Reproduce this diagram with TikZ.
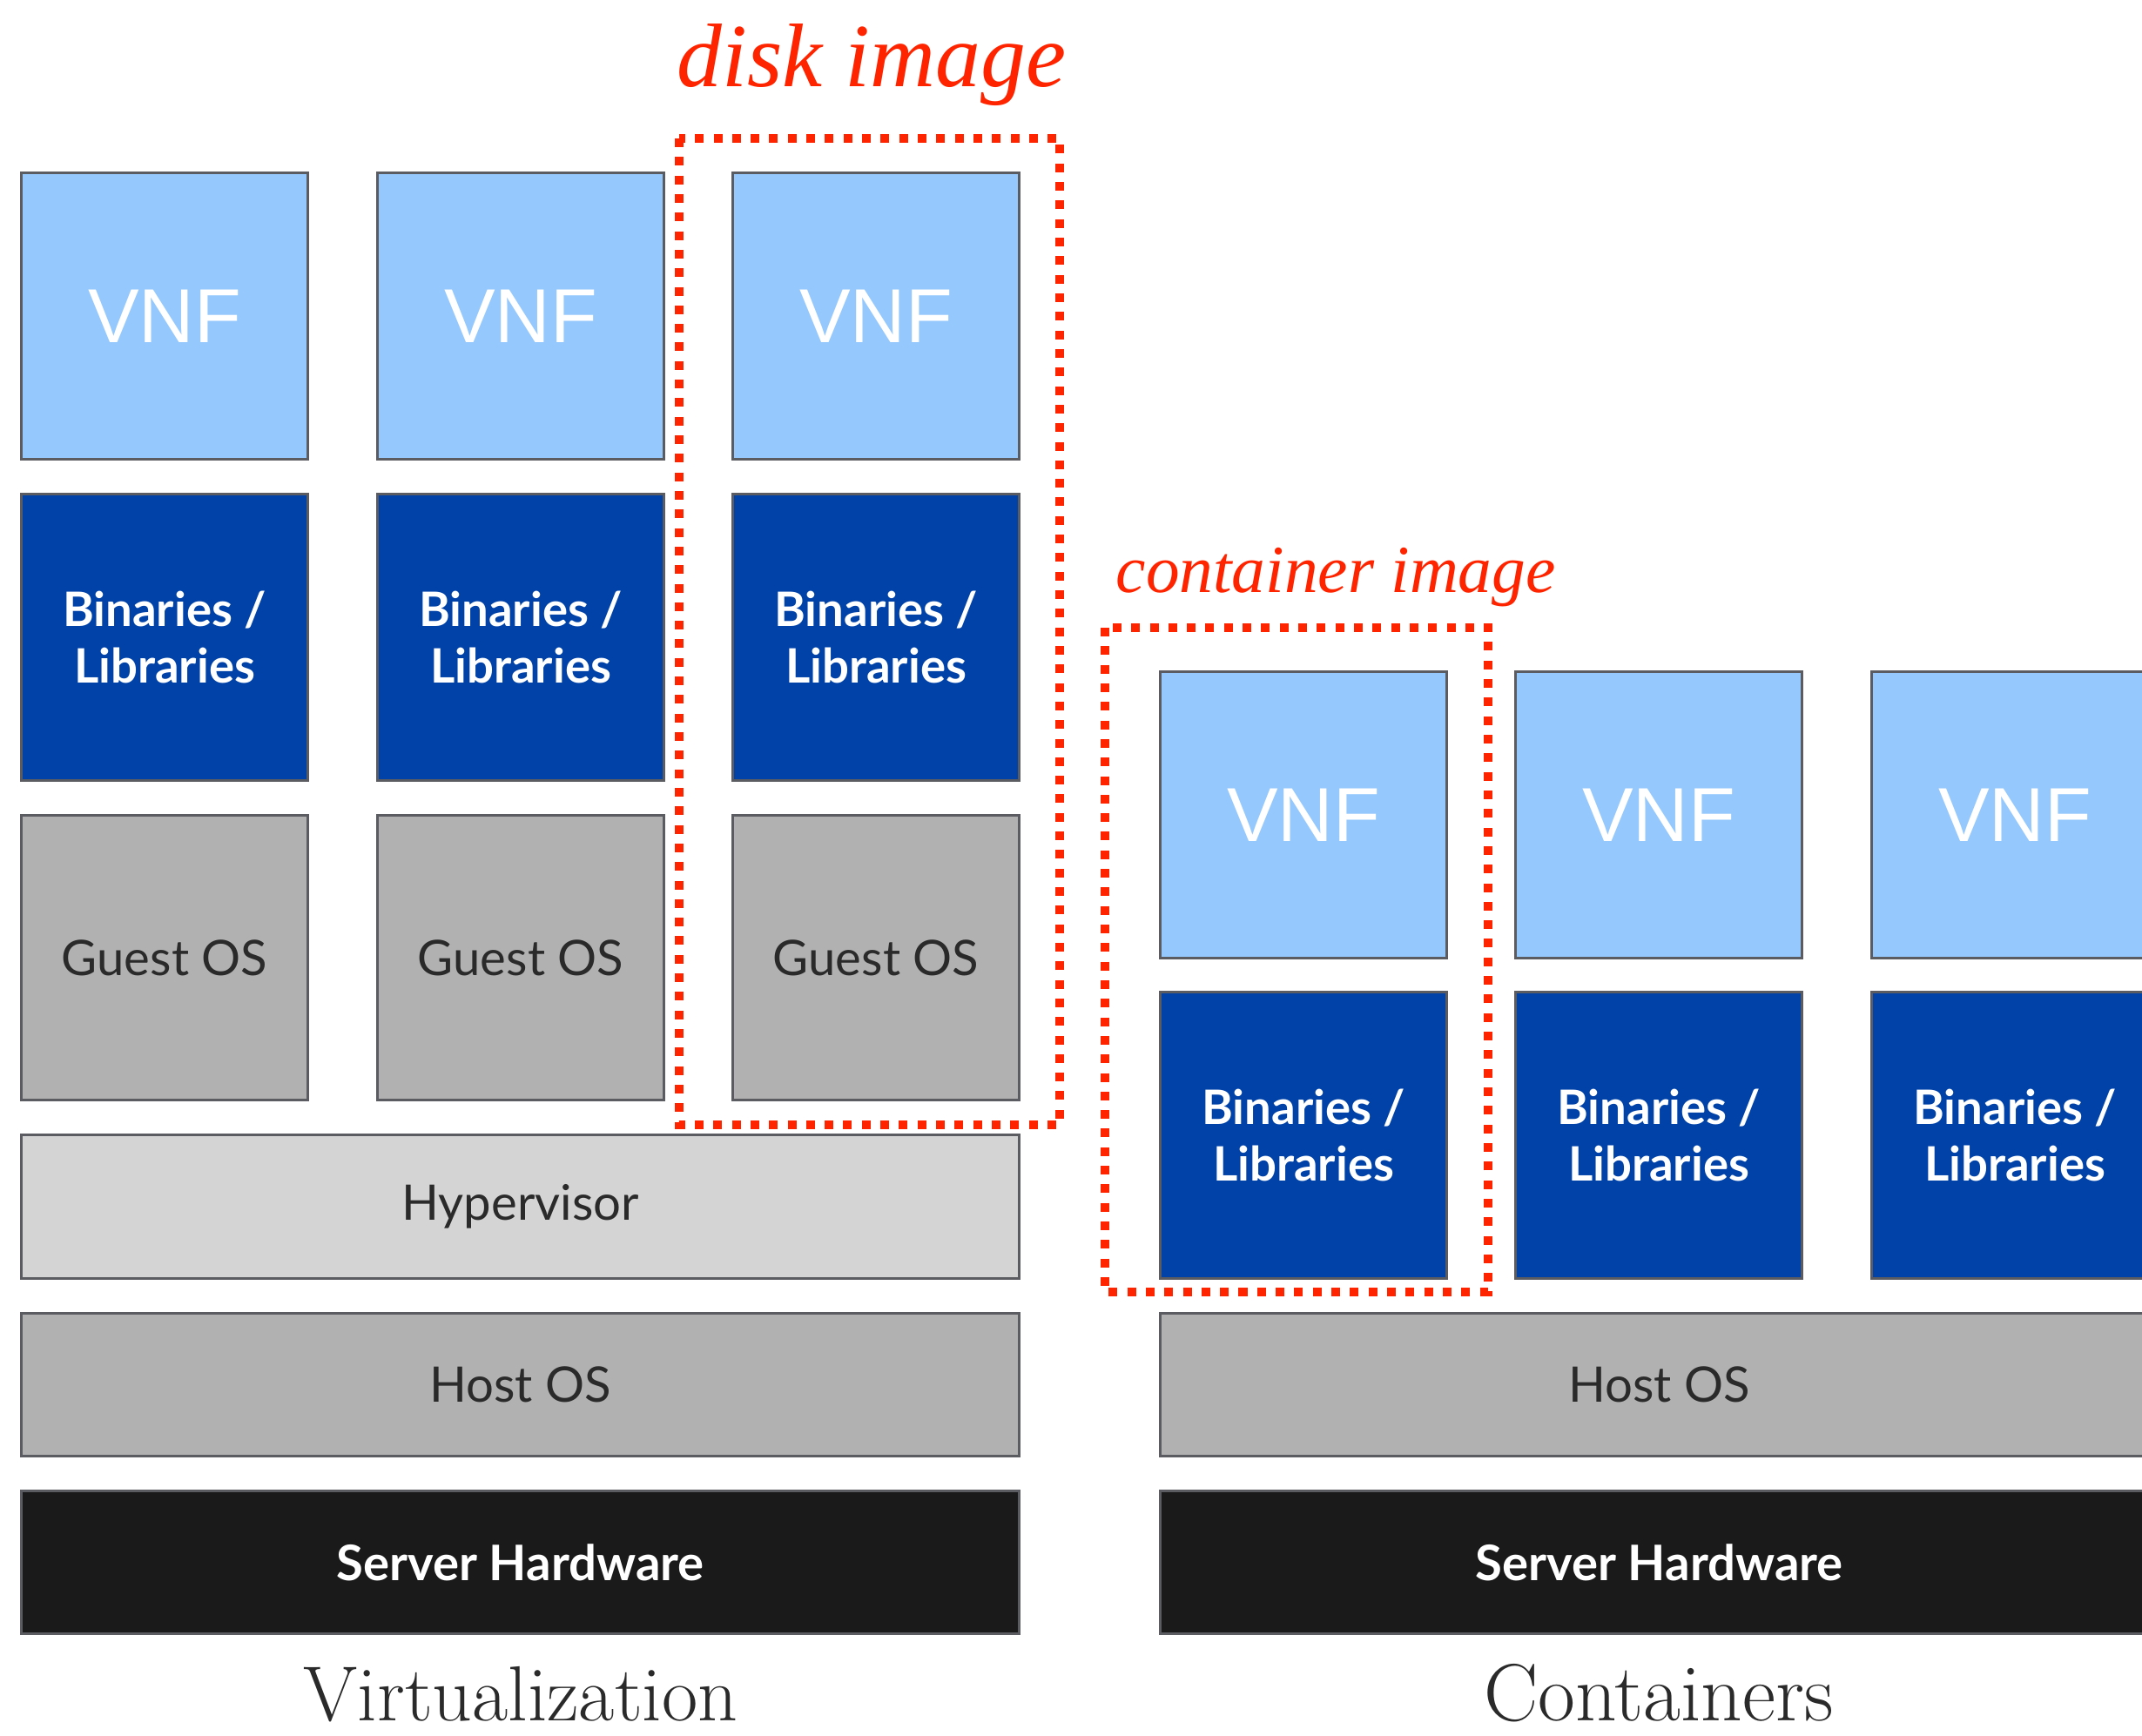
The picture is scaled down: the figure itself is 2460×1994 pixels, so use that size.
\documentclass[tikz,border=0pt]{standalone}
\usepackage{fontspec}
\newfontfamily\vnffont{Liberation Sans}
\newfontfamily\boxfont{Lato}
\newfontfamily\notefont{Liberation Serif}
\usetikzlibrary{positioning}

\definecolor{vnfblue}{HTML}{95C8FD}
\definecolor{binblue}{HTML}{0042A8}
\definecolor{osgray}{HTML}{B1B1B1}
\definecolor{hypgray}{HTML}{D4D4D4}
\definecolor{hwblack}{HTML}{1A1A1A}
\definecolor{edgegray}{HTML}{5A5C62}
\definecolor{labeltext}{HTML}{2A2A2A}
\definecolor{markred}{HTML}{FF2400}

\tikzset{
  layer/.style={draw=edgegray, line width=0.85pt, inner sep=0pt, outer sep=0pt},
  tile/.style={layer, minimum width=3.28cm, minimum height=3.28cm},
  vnfbox/.style={tile, fill=vnfblue, text=white, font=\vnffont\fontsize{25}{30}\selectfont},
  binbox/.style={tile, fill=binblue, text=white, align=center,
                 font=\boxfont\bfseries\fontsize{15.5}{18.5}\selectfont},
  guestbox/.style={tile, minimum height=3.26cm, fill=osgray, text=labeltext,
                   font=\boxfont\fontsize{16}{19}\selectfont},
  band/.style={layer, minimum width=11.45cm, minimum height=1.63cm,
               font=\boxfont\fontsize{16}{19}\selectfont},
  hypband/.style={band, minimum height=1.64cm, fill=hypgray, text=labeltext},
  hostband/.style={band, fill=osgray, text=labeltext},
  hwband/.style={band, fill=hwblack, text=white, font=\boxfont\bfseries\fontsize{16}{19}\selectfont},
  caption/.style={anchor=base, text=labeltext, inner sep=0pt},
  imgframe/.style={draw=markred, line width=0.1cm, dash pattern=on 0.1cm off 0.113cm},
  imglabel/.style={anchor=base west, text=markred, inner sep=0pt},
}

\begin{document}
\begin{tikzpicture}[x=0.01cm, y=-0.01cm]
  \useasboundingbox (0,0) rectangle (2460,1994);
  \clip (0,0) rectangle (2460,1994);

  % ---- Virtualization stack ----
  \node[vnfbox] (v1) at (189,363) {VNF};
  \node[vnfbox] (v2) at (598,363) {VNF};
  \node[vnfbox] (v3) at (1006,363) {VNF};

  \node[binbox] (b1) at (189,732) {Binaries /\\Libraries};
  \node[binbox] (b2) at (598,732) {Binaries /\\Libraries};
  \node[binbox] (b3) at (1006,732) {Binaries /\\Libraries};

  \node[guestbox] (g1) at (189,1100) {Guest OS};
  \node[guestbox] (g2) at (598,1100) {Guest OS};
  \node[guestbox] (g3) at (1006,1100) {Guest OS};

  \node[hypband] (hyp) at (597.5,1386) {Hypervisor};
  \node[hostband] (hostv) at (597.5,1590.5) {Host OS};
  \node[hwband] (hwv) at (597.5,1794.5) {Server Hardware};
  \node[caption, font=\fontsize{25.5}{30}\selectfont] (capv) at (598,1976) {Virtualization};

  % ---- Container stack ----
  \node[vnfbox] (c1) at (1497,936) {VNF};
  \node[vnfbox] (c2) at (1905,936) {VNF};
  \node[vnfbox] (c3) at (2314,936) {VNF};

  \node[binbox] (cb1) at (1497,1304) {Binaries /\\Libraries};
  \node[binbox] (cb2) at (1905,1304) {Binaries /\\Libraries};
  \node[binbox] (cb3) at (2314,1304) {Binaries /\\Libraries};

  \node[hostband] (hostc) at (1905.5,1590.5) {Host OS};
  \node[hwband] (hwc) at (1905.5,1794.5) {Server Hardware};
  \node[caption, font=\fontsize{26.5}{31}\selectfont] (capc) at (1905,1976) {Containers};

  % ---- image boundaries ----
  \draw[imgframe] (780,159) rectangle (1217,1292);
  \node[imglabel, font=\notefont\itshape\fontsize{29.5}{34}\selectfont] (disklbl) at (777,100) {disk image};

  \draw[imgframe] (1269,721) rectangle (1709,1484);
  \node[imglabel, font=\notefont\itshape\fontsize{22}{26}\selectfont] (contlbl) at (1281,680) {container image};
\end{tikzpicture}
\end{document}
